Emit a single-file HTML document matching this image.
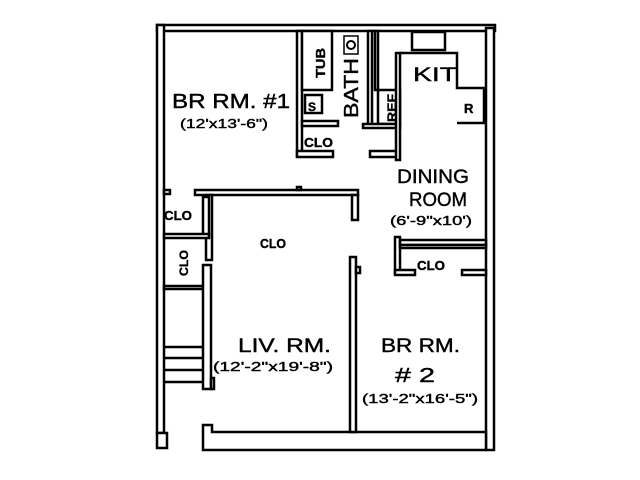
<!DOCTYPE html>
<html><head><meta charset="utf-8"><style>
html,body{margin:0;padding:0;background:#fff}
svg{display:block}
text{font-family:"Liberation Sans",sans-serif;fill:#000;stroke:#000;stroke-width:0.4}
</style></head><body>
<svg width="640" height="480" viewBox="0 0 640 480" xmlns="http://www.w3.org/2000/svg">
<g fill="#fff" stroke="#000" stroke-width="2.5">
<rect x="157" y="25" width="338" height="6"/>
<rect x="157" y="25" width="7" height="408"/>
<path d="M157 433 H167 V448 H157 Z"/>
<rect x="486" y="28" width="8" height="422"/>
<path d="M203 432 V425 H212 V432 H350 H357 H486 V450 H203 Z"/>
<rect x="297" y="31" width="5" height="125"/>
<path d="M297 151 H333 V157 H297 Z"/>
<rect x="302" y="31" width="30" height="59"/>
<rect x="305" y="95" width="17" height="18"/>
<rect x="302" y="121" width="36" height="5"/>
<rect x="368" y="31" width="4" height="94"/>
<rect x="375" y="31" width="3" height="59"/>
<rect x="378" y="90" width="22" height="34"/>
<path d="M363 124 H400 V128 H363 Z"/>
<path d="M370 151 H398 V157 H370 Z"/>
<path d="M400 53 H457 V88 H484 V123 H457"/>
<rect x="396" y="53" width="4" height="107"/>
<rect x="412" y="32" width="33" height="18"/>
<rect x="395" y="237" width="5" height="36"/>
<rect x="400" y="240" width="86" height="5"/>
<rect x="400" y="245" width="86" height="3"/>
<rect x="395" y="270" width="20" height="5"/>
<rect x="462" y="270" width="24" height="5"/>
<rect x="350" y="257" width="6" height="175"/>
<rect x="356" y="267" width="4" height="6"/>
<rect x="195" y="190" width="163" height="5"/>
<rect x="297" y="187" width="4" height="3"/>
<rect x="352" y="195" width="6" height="25"/>
<rect x="206" y="195" width="6" height="65"/>
<rect x="164" y="190" width="6" height="4"/>
<rect x="203" y="197" width="6" height="38"/>
<rect x="164" y="234" width="45" height="4"/>
<rect x="164" y="286" width="39" height="3"/>
<rect x="203" y="265" width="8" height="124"/>
<rect x="211" y="378" width="3" height="11"/>
</g>
<g stroke="#000" stroke-width="2.5">
<line x1="164" y1="347" x2="203" y2="347"/>
<line x1="164" y1="358" x2="203" y2="358"/>
<line x1="164" y1="370" x2="203" y2="370"/>
<line x1="164" y1="382" x2="203" y2="382"/>
</g>
<circle cx="351" cy="45" r="4" fill="none" stroke="#000" stroke-width="2"/>
<rect x="344" y="36" width="14" height="18" fill="none" stroke="#000" stroke-width="1.5"/>
<text x="172" y="108" font-size="20" textLength="118" lengthAdjust="spacingAndGlyphs">BR RM. #1</text>
<text x="180" y="128" font-size="13" textLength="88" lengthAdjust="spacingAndGlyphs">(12'x13'-6")</text>
<text transform="translate(325,78) rotate(-90)" font-size="13" font-weight="bold" textLength="30" lengthAdjust="spacingAndGlyphs">TUB</text>
<text transform="translate(358,118) rotate(-90)" font-size="20" textLength="60" lengthAdjust="spacingAndGlyphs">BATH</text>
<text x="308" y="111" font-size="12" font-weight="bold">S</text>
<text transform="translate(396,122) rotate(-90)" font-size="12" font-weight="bold" textLength="28" lengthAdjust="spacingAndGlyphs">REF</text>
<text x="413" y="81" font-size="19" textLength="44" lengthAdjust="spacingAndGlyphs">KIT</text>
<text x="464" y="113" font-size="13" font-weight="bold">R</text>
<text x="304" y="147" font-size="13" font-weight="bold" textLength="29" lengthAdjust="spacingAndGlyphs">CLO</text>
<text x="397" y="183" font-size="19" textLength="72" lengthAdjust="spacingAndGlyphs">DINING</text>
<text x="409" y="206" font-size="19" textLength="58" lengthAdjust="spacingAndGlyphs">ROOM</text>
<text x="390" y="225" font-size="13" textLength="82" lengthAdjust="spacingAndGlyphs">(6'-9"x10')</text>
<text x="260" y="248" font-size="13" font-weight="bold" textLength="26" lengthAdjust="spacingAndGlyphs">CLO</text>
<text x="164" y="220" font-size="13" font-weight="bold" textLength="28" lengthAdjust="spacingAndGlyphs">CLO</text>
<text transform="translate(188,276) rotate(-90)" font-size="12" font-weight="bold" textLength="26" lengthAdjust="spacingAndGlyphs">CLO</text>
<text x="417" y="270" font-size="13" font-weight="bold" textLength="28" lengthAdjust="spacingAndGlyphs">CLO</text>
<text x="238" y="352" font-size="19" textLength="93" lengthAdjust="spacingAndGlyphs">LIV. RM.</text>
<text x="213" y="371" font-size="13" textLength="120" lengthAdjust="spacingAndGlyphs">(12'-2"x19'-8")</text>
<text x="381" y="352" font-size="19" textLength="79" lengthAdjust="spacingAndGlyphs">BR RM.</text>
<text x="395" y="382" font-size="20" textLength="40" lengthAdjust="spacingAndGlyphs"># 2</text>
<text x="362" y="403" font-size="13" textLength="116" lengthAdjust="spacingAndGlyphs">(13'-2"x16'-5")</text>
</svg>
</body></html>
